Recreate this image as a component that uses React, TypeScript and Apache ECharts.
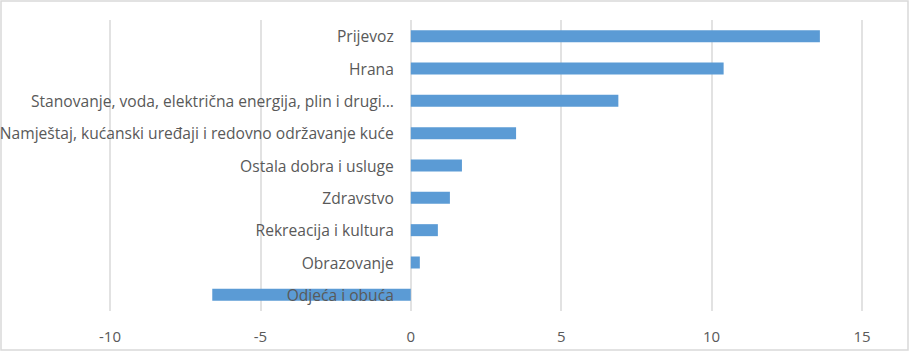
import React, { useEffect, useRef } from "react";
import * as echarts from "echarts";

const categories = [
  "Prijevoz",
  "Hrana",
  "Stanovanje, voda, električna energija, plin i drugi…",
  "Namještaj, kućanski uređaji i redovno održavanje kuće",
  "Ostala dobra i usluge",
  "Zdravstvo",
  "Rekreacija i kultura",
  "Obrazovanje",
  "Odjeća i obuća",
];
const values = [13.6, 10.4, 6.9, 3.5, 1.7, 1.3, 0.9, 0.3, -6.6];
const xTicks = { min: -10, max: 15, interval: 5 };

export default function App() {
  const ref = useRef<HTMLDivElement>(null);
  useEffect(() => {
    if (!ref.current) return;
    const chart = echarts.init(ref.current, null, { renderer: "svg" });
    const font = "'Open Sans', 'Noto Sans', sans-serif";
    const gridLeft = 110;
    const gridRight = 48;
    const gridWidth = 910 - gridLeft - gridRight;
    const zeroOffset =
      ((0 - xTicks.min) / (xTicks.max - xTicks.min)) * gridWidth;
    chart.setOption({
      animation: false,
      backgroundColor: "#ffffff",
      textStyle: { fontFamily: font },
      graphic: [
        {
          type: "rect",
          shape: { x: 1, y: 1, width: 907, height: 349 },
          style: { fill: "none", stroke: "#d9d9d9", lineWidth: 1.5 },
          silent: true,
          z: 0,
        },
      ],
      grid: {
        left: gridLeft,
        right: gridRight,
        top: 20,
        bottom: 41,
        containLabel: false,
        outerBoundsMode: "none",
      },
      xAxis: {
        type: "value",
        min: xTicks.min,
        max: xTicks.max,
        interval: xTicks.interval,
        axisLine: { show: false },
        axisTick: { show: false },
        splitLine: { show: true, lineStyle: { color: "#d9d9d9", width: 1.5 } },
        axisLabel: { color: "#595959", fontSize: 15, margin: 17, fontFamily: font },
      },
      yAxis: {
        type: "category",
        data: categories,
        inverse: true,
        position: "left",
        offset: -zeroOffset,
        z: 5,
        axisLine: { show: false, onZero: false },
        axisTick: { show: false },
        splitLine: { show: false },
        axisLabel: {
          color: "#595959",
          fontSize: 15.6,
          margin: 17,
          fontFamily: font,
          interval: 0,
        },
      },
      series: [
        {
          type: "bar",
          data: values,
          barWidth: 12,
          itemStyle: { color: "#5b9bd5" },
        },
      ],
    });
    return () => chart.dispose();
  }, []);
  return (
    <div
      ref={ref}
      style={{ position: "fixed", left: 0, top: 0, width: 910, height: 352 }}
    />
  );
}
